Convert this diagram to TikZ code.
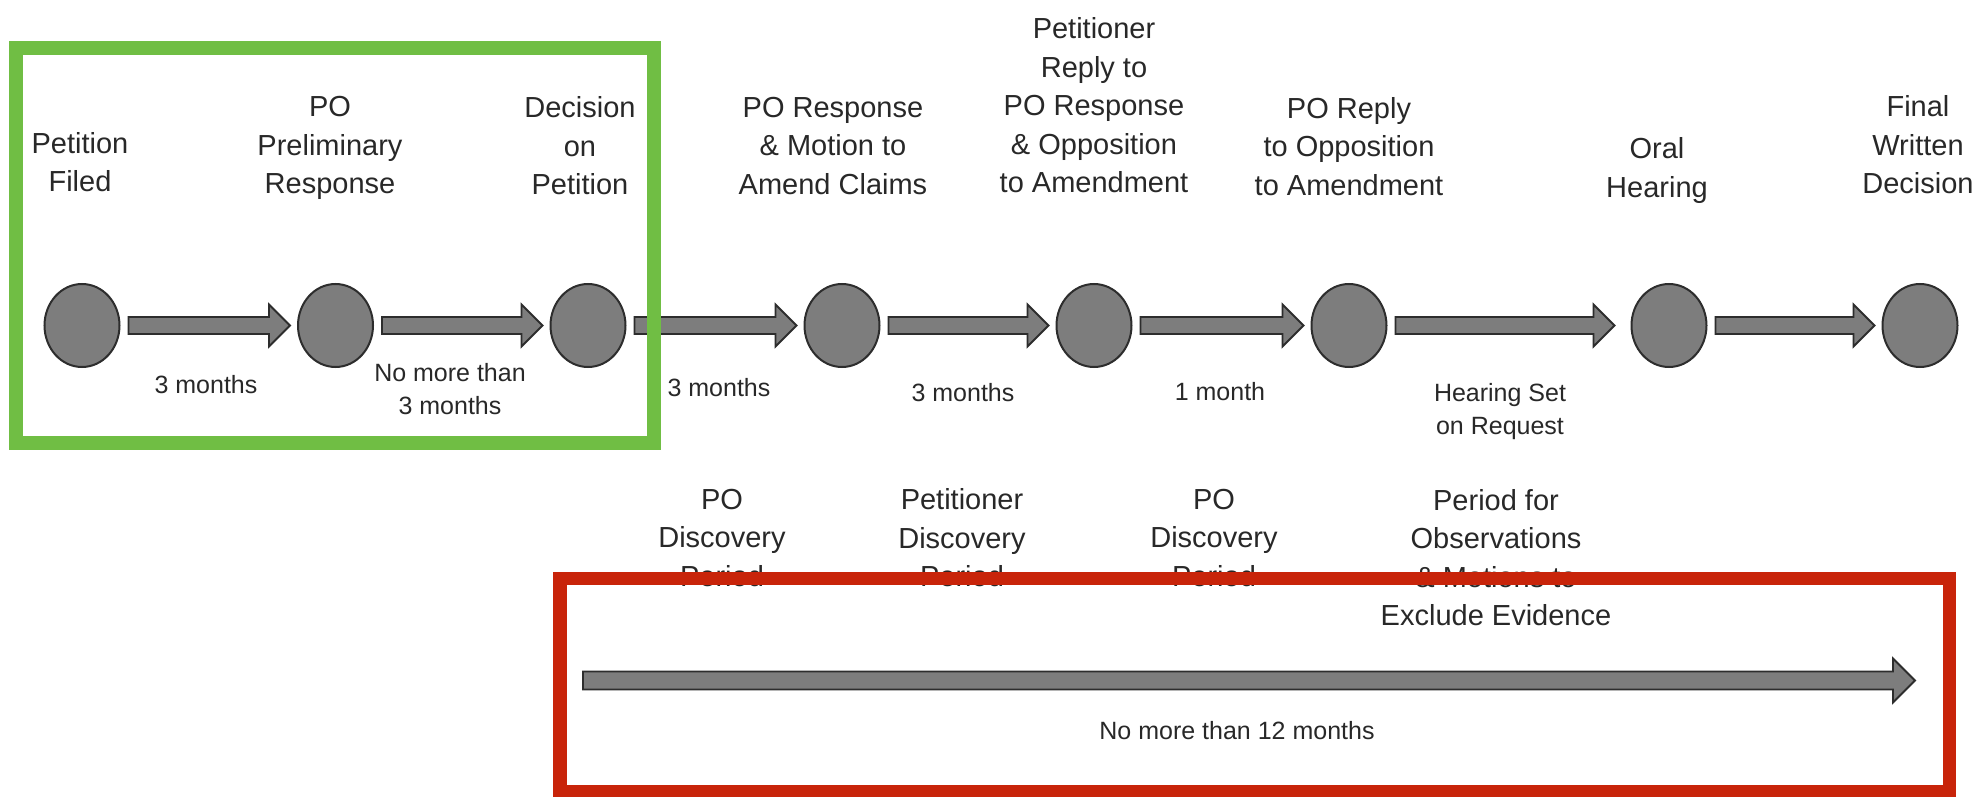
\documentclass[tikz,border=0pt]{standalone}
\usepackage{fontspec}
\setmainfont{Liberation Sans}
\usetikzlibrary{shapes.geometric,calc}
\definecolor{txt}{RGB}{40,40,40}
\definecolor{dotfill}{RGB}{125,125,125}
\definecolor{dotline}{RGB}{45,45,45}
\definecolor{gbox}{RGB}{112,190,68}
\definecolor{rbox}{RGB}{200,36,10}
\tikzset{
  stage/.style={ellipse, draw=dotline, fill=dotfill, line width=1pt,
    minimum width=37.5pt, minimum height=41.5pt, inner sep=0pt, outer sep=0pt},
  big/.style={font=\fontsize{14.5pt}{19.25pt}\selectfont, text=txt, align=center, inner sep=0pt},
  small/.style={font=\fontsize{12.5pt}{16.5pt}\selectfont, text=txt, align=center, inner sep=0pt},
  barrowstyle/.style={draw=dotline, fill=dotfill, line width=0.9pt, line join=miter},
  framegreen/.style={draw=gbox, line width=7pt},
  framered/.style={draw=rbox, line width=6.75pt},
}
\def\sh{4.25pt}\def\hh{10.5pt}\def\hl{10.5pt}
\newcommand\barrow[2]{%
  \path[barrowstyle] let \p1=(#1), \p2=(#2) in
    (\x1,\y1+\sh) -- (\x2-\hl,\y1+\sh) -- (\x2-\hl,\y1+\hh)
    -- (\x2,\y1) -- (\x2-\hl,\y1-\hh) -- (\x2-\hl,\y1-\sh)
    -- (\x1,\y1-\sh) -- cycle;}
\begin{document}
\begin{tikzpicture}[x=0.5pt,y=-0.5pt]
\useasboundingbox (0,0) rectangle (1978,797);
% stages
\node[stage] (c1) at (82,325.5) {};
\node[stage] (c2) at (335.5,325.5) {};
\node[stage] (c3) at (588,325.5) {};
\node[stage] (c4) at (842,325.5) {};
\node[stage] (c5) at (1094,325.5) {};
\node[stage] (c6) at (1349,325.5) {};
\node[stage] (c7) at (1669,325.5) {};
\node[stage] (c8) at (1920,325.5) {};
% top labels
\node[big] (l1) at (80,162) {Petition\\Filed};
\node[big] (l2) at (330,148) {PO\\Preliminary\\Response};
\node[big] (l3) at (580,146) {Decision\\on\\Petition};
\node[big] (l4) at (833,146) {PO Response\\\& Motion to\\Amend Claims};
\node[big] (l5) at (1094,105.5) {Petitioner\\Reply to\\PO Response\\\& Opposition\\to Amendment};
\node[big] (l6) at (1349,146.5) {PO Reply\\to Opposition\\to Amendment};
\node[big] (l7) at (1657,170.5) {Oral\\Hearing};
\node[big] (l8) at (1918,145) {Final\\Written\\Decision};
% durations
\node[small] (m1) at (206,385) {3 months};
\node[small] (m2) at (450,389) {No more than\\3 months};
\node[small] (m3) at (719,388) {3 months};
\node[small] (m4) at (963,393) {3 months};
\node[small] (m5) at (1220,392) {1 month};
\node[small] (m6) at (1500,412) {Hearing Set\\on Request};
% lower labels
\node[big] (p1) at (722,538) {PO\\Discovery\\Period};
\node[big] (p2) at (962,538) {Petitioner\\Discovery\\Period};
\node[big] (p3) at (1214,538) {PO\\Discovery\\Period};
\node[big] (p4) at (1496,557.5) {Period for\\Observations\\\& Motions to\\Exclude Evidence};
\node[small] (m7) at (1237,731) {No more than 12 months};
% block arrows
\barrow{$(c1.east)+(9,0)$}{$(c2.west)+(-8,0)$}
\barrow{$(c2.east)+(9,0)$}{$(c3.west)+(-8,0)$}
\barrow{$(c3.east)+(9,0)$}{$(c4.west)+(-8,0)$}
\barrow{$(c4.east)+(9,0)$}{$(c5.west)+(-8,0)$}
\barrow{$(c5.east)+(9,0)$}{$(c6.west)+(-8,0)$}
\barrow{$(c6.east)+(9,0)$}{$(c7.west)+(-17,0)$}
\barrow{$(c7.east)+(9,0)$}{$(c8.west)+(-8,0)$}
\coordinate (ls) at (583,680.5);
\coordinate (le) at (1915,680.5);
{\def\sh{4.5pt}\def\hh{11pt}\def\hl{11pt}
\barrow{ls}{le}}
% frames
\draw[framegreen] (16,48) rectangle (653.5,442.5);
\draw[framered] (560,578.5) rectangle (1949.5,792);
\end{tikzpicture}
\end{document}
